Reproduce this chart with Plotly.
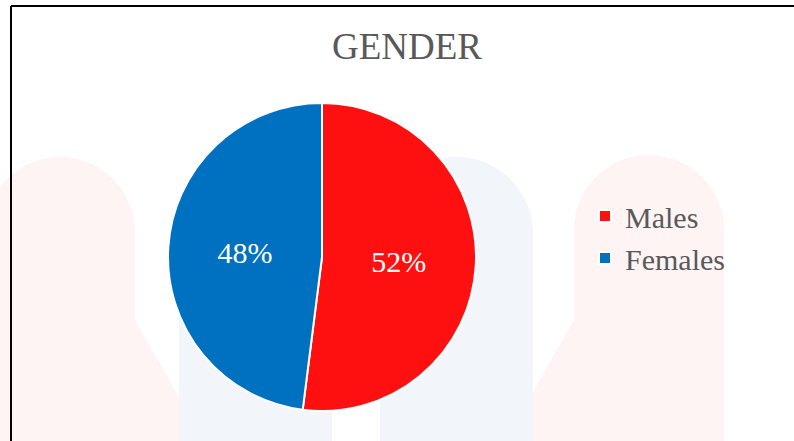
import plotly.graph_objects as go

# ---- data ----
labels = ["Males", "Females"]
shares = [52, 48]
colors = ["#FF1010", "#0070C0"]

W, H = 794, 441
SERIF = "Liberation Serif"
GREY = "#595959"


def px(x, y):
    """pixel (top-left origin) -> paper coords"""
    return x / W, 1 - y / H


def arch(x0, x1, top, color):
    """faint rounded watermark column: circle cap + rect body"""
    r = (x1 - x0) / 2
    cx0, cy1 = px(x0, top)
    cx1, cy0 = px(x1, top + 2 * r)
    bx0, by1 = px(x0, top + r)
    bx1, by0 = px(x1, H)
    return [
        dict(type="circle", xref="paper", yref="paper", x0=cx0, x1=cx1, y0=cy0, y1=cy1,
             fillcolor=color, line_width=0, layer="below"),
        dict(type="rect", xref="paper", yref="paper", x0=bx0, x1=bx1, y0=by0, y1=by1,
             fillcolor=color, line_width=0, layer="below"),
    ]


def leg(pts, color):
    p = [px(*q) for q in pts]
    path = "M" + " L".join(f"{a:.4f},{b:.4f}" for a, b in p) + " Z"
    return dict(type="path", xref="paper", yref="paper", path=path,
                fillcolor=color, line_width=0, layer="below")


PINK = "#FEF4F4"; BLUE = "#F2F6FA"
shapes = []
shapes += [leg([(80, 320), (135, 320), (204, 441), (120, 441)], PINK)]
shapes += [leg([(574, 320), (640, 320), (590, 441), (505, 441)], PINK)]
shapes += arch(-15, 135, 157, PINK)
shapes += arch(179, 332, 157, BLUE)
shapes += arch(380, 533, 157, BLUE)
shapes += arch(574, 724, 155, PINK)

# frame lines (top + left)
shapes += [
    dict(type="line", xref="paper", yref="paper", x0=11 / W, x1=1, y0=1 - 6 / H, y1=1 - 6 / H,
         line=dict(color="black", width=2)),
    dict(type="line", xref="paper", yref="paper", x0=11 / W, x1=11 / W, y0=0, y1=1 - 6 / H,
         line=dict(color="black", width=2)),
]

# pie placement: centre (322, 257), radius 154 px
cx, cy, r = 322, 257, 154
fig = go.Figure(go.Pie(
    labels=labels, values=shares, sort=False, direction="clockwise", rotation=0,
    marker=dict(colors=colors, line=dict(color="white", width=2)),
    textinfo="percent", texttemplate="%{percent:.0%}", textposition="inside",
    insidetextorientation="horizontal",
    textfont=dict(family=SERIF, size=30, color="white"),
    domain=dict(x=[(cx - r) / W, (cx + r) / W], y=[1 - (cy + r) / H, 1 - (cy - r) / H]),
    hoverinfo="label+percent",
))

fig.update_layout(
    width=W, height=H, margin=dict(l=0, r=0, t=0, b=0),
    paper_bgcolor="white", plot_bgcolor="white",
    font=dict(family=SERIF, color=GREY),
    title=dict(text="GENDER", x=407 / W, y=1 - 46 / H, xanchor="center", yanchor="middle",
               font=dict(family=SERIF, size=37, color=GREY)),
    legend=dict(x=585 / W, y=1 - 237 / H, xanchor="left", yanchor="middle",
                font=dict(family=SERIF, size=30, color=GREY), bgcolor="rgba(0,0,0,0)"),
    shapes=shapes,
)

fig.write_html("out.html", config={"displayModeBar": False},
               post_script="document.body.style.margin='0';")
